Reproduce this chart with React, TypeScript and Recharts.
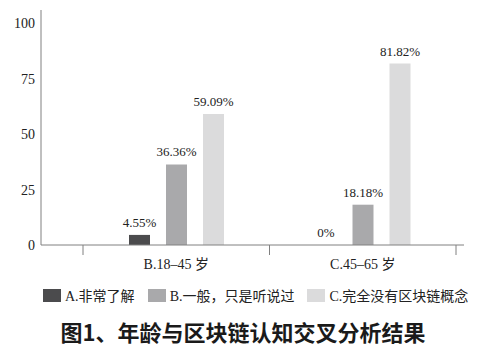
import React from 'react';
import { BarChart, Bar, XAxis, YAxis, Legend, LabelList, Cell } from 'recharts';

const categories = ['B.18–45 岁', 'C.45–65 岁'];
const seriesNames = ['A.非常了解', 'B.一般，只是听说过', 'C.完全没有区块链概念'];
const seriesA = [4.55, 0];
const seriesB = [36.36, 18.18];
const seriesC = [59.09, 81.82];
const yTicks = [0, 25, 50, 75, 100];
const colors = ['#4b4b4d', '#a9a9ab', '#dbdbdc'];
const title = '图1、年龄与区块链认知交叉分析结果';

const data = categories.map((name, i) => ({
  name,
  a: seriesA[i],
  b: seriesB[i],
  c: seriesC[i],
}));

const SERIF = "'Liberation Serif', 'Times New Roman', 'DejaVu Serif', 'Noto Sans CJK SC', serif";
const AXIS = '#808080';

const XTick = (props: any) => {
  const { x, y, payload } = props;
  const off = payload && payload.offset ? payload.offset : 0;
  const top = y - 13;
  return (
    <g>
      <line x1={x - off} x2={x - off} y1={top} y2={top + 10} stroke={AXIS} />
      <line x1={x + off} x2={x + off} y1={top} y2={top + 10} stroke={AXIS} />
      <text x={x} y={y} dy="0.8em" textAnchor="middle" fill="#222" fontSize={14} style={{ fontFamily: SERIF }}>
        {payload.value}
      </text>
    </g>
  );
};

const renderLegend = () => (
  <div style={{ height: 20, display: 'flex', alignItems: 'center', paddingLeft: 43, fontFamily: SERIF, fontSize: 14, color: '#222' }}>
    {seriesNames.map((n, i) => (
      <div key={n} style={{ display: 'flex', alignItems: 'center', marginRight: 13 }}>
        <div style={{ width: 18, height: 13, background: colors[i], marginRight: 4 }} />
        <span style={{ whiteSpace: 'nowrap' }}>{n}</span>
      </div>
    ))}
  </div>
);

const makeLabel = (offset: number) => (props: any) => {
  const { x, y, width, height, value } = props;
  if (value === undefined || value === null) return null;
  const top = Number(value) === 0 ? Number(y) + Number(height) : Number(y);
  return (
    <text
      x={Number(x) + Number(width) / 2}
      y={top - offset}
      textAnchor="middle"
      fill="#222"
      fontSize={13}
      style={{ fontFamily: SERIF }}
    >
      {`${value}%`}
    </text>
  );
};

const series = [
  { key: 'a', values: seriesA },
  { key: 'b', values: seriesB },
  { key: 'c', values: seriesC },
];

export default function App() {
  return (
    <div style={{ position: 'absolute', left: 0, top: 0, width: 500, height: 360, background: '#fff' }}>
      <BarChart
        width={500}
        height={310}
        data={data}
        margin={{ top: 10, right: 36, bottom: 5, left: 0 }}
        barSize={21}
        barGap={16}
      >
        <XAxis
          dataKey="name"
          height={40}
          padding={{ left: 42, right: 8 }}
          axisLine={{ stroke: AXIS }}
          tickLine={false}
          tickSize={10}
          tickMargin={3}
          interval={0}
          tick={<XTick />}
        />
        <YAxis
          width={41}
          domain={[0, 106]}
          ticks={yTicks}
          axisLine={{ stroke: AXIS }}
          tickLine={false}
          tickSize={6}
          tickMargin={0}
          tick={{ fill: '#222', fontSize: 14, style: { fontFamily: SERIF } }}
        />
        <Legend verticalAlign="bottom" height={20} content={renderLegend} />
        {series.map((s, si) => (
          <Bar
            key={s.key}
            dataKey={s.key}
            name={seriesNames[si]}
            fill={colors[si]}
            minPointSize={1}
            isAnimationActive={false}
          >
            {s.values.map((v, i) => (
              <Cell key={i} fill={v === 0 ? 'transparent' : colors[si]} />
            ))}
            <LabelList dataKey={s.key} content={makeLabel(8)} />
          </Bar>
        ))}
      </BarChart>
      <div
        style={{
          position: 'absolute',
          top: 318,
          left: 0,
          width: 486,
          textAlign: 'center',
          fontSize: 22,
          lineHeight: '26px',
          fontWeight: 'bold',
          fontFamily: '"Noto Sans CJK SC", sans-serif',
          color: '#1a1a1a',
        }}
      >
        {title}
      </div>
    </div>
  );
}
